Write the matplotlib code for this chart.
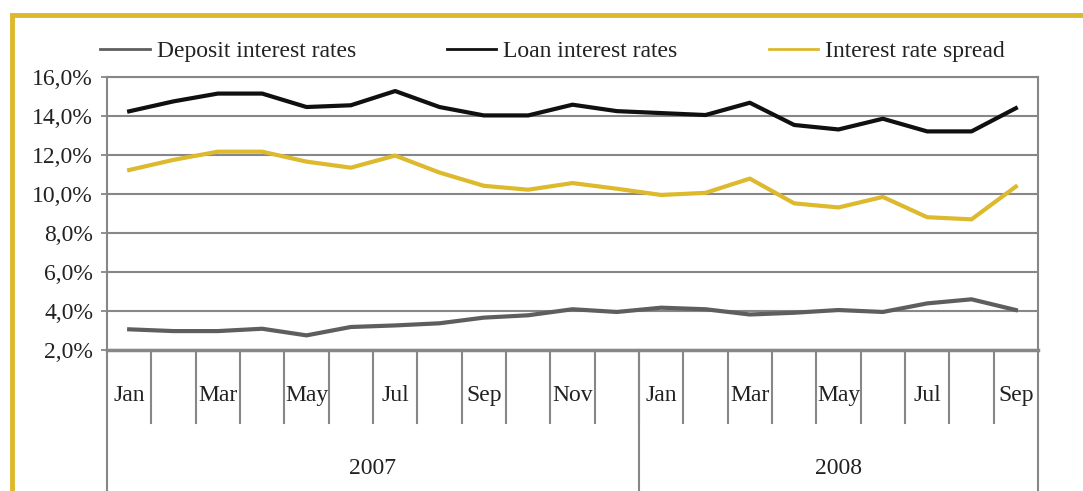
import matplotlib.pyplot as plt
import matplotlib.transforms as mtransforms
from matplotlib.lines import Line2D
from matplotlib.ticker import FuncFormatter

plt.rcParams['font.family'] = ['Liberation Serif', 'DejaVu Serif']

# data, Jan 2007 .. Sep 2008
months = ["Jan", "Feb", "Mar", "Apr", "May", "Jun", "Jul", "Aug", "Sep", "Oct", "Nov", "Dec",
          "Jan", "Feb", "Mar", "Apr", "May", "Jun", "Jul", "Aug", "Sep"]
years = ["2007", "2008"]
year_len = [12, 9]
deposit = [3.06, 2.97, 2.97, 3.09, 2.75, 3.18, 3.26, 3.37, 3.66, 3.78, 4.09, 3.95,
           4.17, 4.09, 3.82, 3.91, 4.05, 3.95, 4.39, 4.60, 4.05]
loan = [14.24, 14.75, 15.15, 15.15, 14.46, 14.55, 15.28, 14.46, 14.03, 14.03, 14.58, 14.25,
        14.15, 14.05, 14.68, 13.54, 13.31, 13.86, 13.21, 13.21, 14.40]
spread = [11.23, 11.75, 12.17, 12.17, 11.66, 11.35, 11.97, 11.10, 10.42, 10.22, 10.56, 10.27,
          9.95, 10.06, 10.79, 9.52, 9.31, 9.85, 8.81, 8.70, 10.38]

grey = "#878787"
gold = "#DDB92E"
txt = "#222222"
fs = 17
W, H = 1083, 491

fig = plt.figure(figsize=(W / 100, H / 100), dpi=100)
ax = fig.add_axes([107 / W, 1 - 350 / H, (1038 - 107) / W, (350 - 77) / H])

x = list(range(len(months)))
l1, = ax.plot(x, deposit, color="#5E5E60", lw=3, label="Deposit interest rates", solid_joinstyle="round")
l2, = ax.plot(x, loan, color="#101010", lw=3, label="Loan interest rates", solid_joinstyle="round")
l3, = ax.plot(x, spread, color=gold, lw=3, label="Interest rate spread", solid_joinstyle="round")

ax.set_xlim(-0.5, len(months) - 0.5)
ax.set_ylim(2, 16)
ax.set_yticks(range(2, 17, 2))
ax.yaxis.set_major_formatter(FuncFormatter(lambda v, p: f"{v:.1f}%".replace(".", ",")))
ax.tick_params(axis="y", length=4, color=grey, width=1.3, pad=6, labelsize=fs, labelcolor=txt)
ax.set_xticks([])
ax.grid(axis="y", color=grey, lw=1.5)
ax.set_axisbelow(True)
for s in ax.spines.values():
    s.set_color(grey)
    s.set_linewidth(1.5)
ax.spines["bottom"].set_linewidth(2.5)

# category axis below the plot
trans = mtransforms.blended_transform_factory(ax.transData, ax.transAxes)
for i in range(1, len(months)):
    ax.add_line(Line2D([i - 0.5, i - 0.5], [0, -0.267], transform=trans, color=grey, lw=1.5, clip_on=False))
for i in range(0, len(months), 2):
    ax.text(i, -0.165, months[i], transform=trans, ha="center", va="center", fontsize=fs, color=txt)

start = -0.5
for yr, n in zip(years, year_len):
    ax.add_line(Line2D([start, start], [0, -0.6], transform=trans, color=grey, lw=1.5, clip_on=False))
    ax.text(start + n / 2, -0.435, yr, transform=trans, ha="center", va="center", fontsize=fs, color=txt)
    start += n
ax.add_line(Line2D([start, start], [0, -0.6], transform=trans, color=grey, lw=1.5, clip_on=False))

leg = fig.legend(handles=[l1, l2, l3], loc="center left", bbox_to_anchor=(100 / W, 1 - 51 / H),
                 ncol=3, frameon=False, fontsize=fs, handlelength=2.1, handletextpad=0.3,
                 columnspacing=3.85, borderaxespad=0, borderpad=0)
for ln in leg.get_lines():
    ln.set_linewidth(2)
for t in leg.get_texts():
    t.set_color(txt)

# gold frame
fig.add_artist(Line2D([12 / W, 12 / W, 1.0], [0, 1 - 15 / H, 1 - 15 / H], transform=fig.transFigure,
                      color=gold, lw=3.5, solid_joinstyle="miter"))

fig.savefig("out.png", dpi=100)
